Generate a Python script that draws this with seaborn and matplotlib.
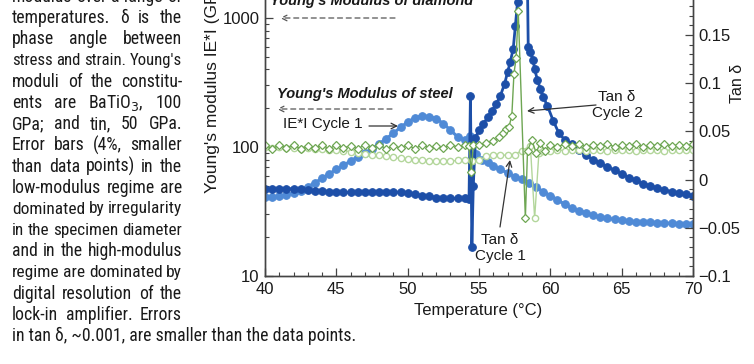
import matplotlib
matplotlib.use("Agg")
import matplotlib.pyplot as plt
import matplotlib.ticker as mticker
import seaborn as sns
from matplotlib import font_manager

W, H = 754, 364

# |E*| cycle 1 (light blue)
temp_e1 = [40.0, 40.5, 41.0, 41.5, 42.0, 42.5, 43.0, 43.5, 44.0, 44.5, 45.0, 45.5, 46.0, 46.5,
           47.0, 47.5, 48.0, 48.5, 49.0, 49.5, 50.0, 50.5, 51.0, 51.5, 52.0, 52.5, 53.0, 53.5,
           54.0, 54.4, 54.8, 55.2, 55.6, 56.0, 56.5, 57.0, 57.5, 58.0, 58.5, 59.0, 59.5, 60.0,
           60.5, 61.0, 61.5, 62.0, 62.5, 63.0, 63.5, 64.0, 64.5, 65.0, 65.5, 66.0, 66.5, 67.0,
           67.5, 68.0, 68.5, 69.0, 69.5, 70.0]
mod_e1 = [41, 41, 41.5, 42.5, 44, 46, 49, 53, 57, 62, 67, 72, 78, 84,
          90, 97, 106, 116, 128, 142, 156, 168, 174, 172, 166, 152, 135, 120,
          113, 122, 88, 80, 76, 71, 67, 63, 59, 56, 53, 49, 45, 42,
          39, 36, 33.5, 32, 31, 29.5, 28.5, 28, 27.5, 27, 26.6, 26.3, 26.1, 26,
          25.9, 25.8, 25.6, 25.5, 25.4, 25.3]

# |E*| cycle 2 (dark blue)
temp_e2 = [40.0, 40.5, 41.0, 41.5, 42.0, 42.5, 43.0, 43.5, 44.0, 44.5, 45.0, 45.5, 46.0, 46.5,
           47.0, 47.5, 48.0, 48.5, 49.0, 49.5, 50.0, 50.5, 51.0, 51.5, 52.0, 52.5, 53.0, 53.5,
           54.0, 54.3, 54.4, 54.5, 54.6, 54.75, 55.0, 55.3, 55.6, 55.9, 56.2, 56.5, 56.8, 57.0,
           57.2, 57.4, 57.55, 57.7, 57.8, 58.35, 58.45, 58.6, 58.8, 58.9, 59.1, 59.3, 59.5, 59.8,
           60.2, 60.6, 61.0, 61.5, 62.0, 62.5, 63.0, 63.5, 64.0, 64.5, 65.0, 65.5, 66.0, 66.5,
           67.0, 67.5, 68.0, 68.5, 69.0, 69.5, 70.0]
mod_e2 = [47, 47.5, 47.5, 47.5, 47.5, 47, 46.5, 46, 45.5, 45, 45, 44.5, 44.5, 45,
          45, 45, 45, 45, 45, 44.5, 44, 43, 42, 41.5, 40.5, 40, 40, 40,
          40, 39.5, 250, 16.8, 50, 118, 135, 150, 170, 190, 215, 250, 310, 380,
          460, 580, 870, 1330, 5000, 5000, 600, 545, 470, 400, 330, 282, 245, 208,
          160, 128, 114, 105, 95, 86, 80, 75, 70, 66, 62, 58, 55, 52,
          50, 48, 46.5, 45, 44, 43, 42]

# tan delta cycle 1 (light green circles)
temp_t1 = [40.0, 40.5, 41.0, 41.5, 42.0, 42.5, 43.0, 43.5, 44.0, 44.5, 45.0, 45.5, 46.0, 46.5,
           47.0, 47.5, 48.0, 48.5, 49.0, 49.5, 50.0, 50.5, 51.0, 51.5, 52.0, 52.5, 53.0, 53.5,
           54.0, 54.5, 55.0, 55.5, 56.0, 56.5, 57.0, 57.5, 58.0, 58.6, 58.9, 59.2, 59.5,
           60.0, 60.5, 61.0, 61.5, 62.0, 62.5, 63.0, 63.5, 64.0, 64.5, 65.0, 65.5, 66.0, 66.5,
           67.0, 67.5, 68.0, 68.5, 69.0, 69.5, 70.0]
tan_t1 = [0.034, 0.033, 0.034, 0.033, 0.033, 0.032, 0.033, 0.032, 0.032, 0.031, 0.031, 0.030, 0.029, 0.028,
          0.027, 0.026, 0.025, 0.024, 0.023, 0.022, 0.021, 0.020, 0.020, 0.019, 0.019, 0.019, 0.019, 0.020,
          0.020, 0.019, 0.020, 0.024, 0.026, 0.026, 0.025, 0.026, 0.030, 0.035, -0.040, 0.028, 0.030,
          0.030, 0.031, 0.030, 0.031, 0.031, 0.030, 0.031, 0.031, 0.030, 0.031, 0.031, 0.031, 0.030, 0.031,
          0.031, 0.031, 0.030, 0.031, 0.031, 0.031, 0.031]

# tan delta cycle 2 (green diamonds)
temp_t2 = [40.0, 40.5, 41.0, 41.5, 42.0, 42.5, 43.0, 43.5, 44.0, 44.5, 45.0, 45.5, 46.0, 46.5,
           47.0, 47.5, 48.0, 48.5, 49.0, 49.5, 50.0, 50.5, 51.0, 51.5, 52.0, 52.5, 53.0, 53.5,
           54.0, 54.3, 54.45, 54.6, 55.0, 55.5, 56.0, 56.4, 56.7, 56.9, 57.1, 57.3, 57.45, 57.6,
           57.75, 58.25, 58.4, 58.7, 59.0, 59.3, 59.6, 60.0, 60.5, 61.0, 61.5, 62.0, 62.5, 63.0,
           63.5, 64.0, 64.5, 65.0, 65.5, 66.0, 66.5, 67.0, 67.5, 68.0, 68.5, 69.0, 69.5, 70.0]
tan_t2 = [0.036, 0.032, 0.036, 0.033, 0.036, 0.032, 0.035, 0.033, 0.036, 0.032, 0.036, 0.033, 0.035, 0.032,
          0.036, 0.033, 0.036, 0.032, 0.035, 0.033, 0.036, 0.032, 0.036, 0.033, 0.035, 0.033, 0.036, 0.034,
          0.036, 0.035, 0.008, 0.036, 0.036, 0.038, 0.040, 0.044, 0.048, 0.052, 0.055, 0.066, 0.110, 0.126,
          0.175, -0.040, 0.030, 0.041, 0.028, 0.038, 0.030, 0.036, 0.034, 0.037, 0.035, 0.037, 0.034, 0.036,
          0.035, 0.037, 0.034, 0.036, 0.035, 0.037, 0.034, 0.036, 0.035, 0.037, 0.035, 0.036, 0.035, 0.037]

caption_lines = [
    "modulus over a range of",
    "temperatures. \u03b4 is the",
    "phase angle between",
    "stress and strain. Young's",
    "moduli of the constitu-",
    "ents are BaTiO$_3$, 100",
    "GPa; and tin, 50 GPa.",
    "Error bars (4%, smaller",
    "than data points) in the",
    "low-modulus regime are",
    "dominated by irregularity",
    "in the specimen diameter",
    "and in the high-modulus",
    "regime are dominated by",
    "digital resolution of the",
    "lock-in amplifier. Errors",
]
caption_last = "in tan \u03b4, ~0.001, are smaller than the data points."

sns.set_style("ticks")
plt.rcParams['font.family'] = ['Liberation Sans', 'DejaVu Sans']
plt.rcParams['axes.unicode_minus'] = True

# a narrow face for the caption, if one is installed
fonts = font_manager.fontManager.ttflist
installed = {f.name for f in fonts}
cap_kw = dict(family=['Liberation Sans', 'DejaVu Sans'], fontsize=10.6)
for name in ['Liberation Sans Narrow', 'Roboto Condensed', 'Open Sans Condensed',
             'Noto Sans Condensed', 'DejaVu Sans Condensed']:
    if name in installed:
        cap_kw = dict(family=[name, 'DejaVu Sans'], fontsize=11.5)
        break
else:
    if any(f.name == 'DejaVu Sans' and f.stretch == 'condensed' and f.style == 'normal'
           and f.weight in (400, 'normal') for f in fonts):
        cap_kw = dict(family=['DejaVu Sans'], fontstretch='condensed', fontsize=10.8)

fig = plt.figure(figsize=(W / 100, H / 100), dpi=100)
ax = fig.add_axes([265 / W, 1 - 276 / H, (693 - 265) / W, 276 / H])
ax2 = ax.twinx()

light_blue = '#4f8ad6'
dark_blue = '#1d4fa8'
green_dark = '#6ea653'
green_light = '#b3d69b'

sns.lineplot(x=temp_e1, y=mod_e1, ax=ax, color=light_blue, marker='o', markersize=5.5,
             markeredgecolor=light_blue, linewidth=2.2, estimator=None, sort=False)
sns.lineplot(x=temp_e2, y=mod_e2, ax=ax, color=dark_blue, marker='o', markersize=5.5,
             markeredgecolor=dark_blue, linewidth=2, estimator=None, sort=False)
sns.lineplot(x=temp_t1, y=tan_t1, ax=ax2, color=green_light, marker='o', markersize=4.5,
             markerfacecolor='white', markeredgecolor=green_light, markeredgewidth=1,
             linewidth=1, estimator=None, sort=False)
sns.lineplot(x=temp_t2, y=tan_t2, ax=ax2, color=green_dark, marker='D', markersize=4.5,
             markerfacecolor='white', markeredgecolor=green_dark, markeredgewidth=0.9,
             linewidth=1, estimator=None, sort=False)

ax.set_yscale('log')
ax.set_xlim(40, 70)
ax.set_ylim(10, 10 ** (3 + 18 / 129))
ax2.set_ylim(-0.1, 0.15 + 35 * 0.25 / 241)

ax.xaxis.set_major_locator(mticker.MultipleLocator(5))
ax.xaxis.set_minor_locator(mticker.MultipleLocator(1))
ax.yaxis.set_major_locator(mticker.FixedLocator([10, 100, 1000]))
ax.yaxis.set_major_formatter(mticker.FuncFormatter(lambda v, p: f"{v:.0f}"))
ax.yaxis.set_minor_locator(mticker.LogLocator(base=10, subs=range(2, 10)))
ax.yaxis.set_minor_formatter(mticker.NullFormatter())
ax2.yaxis.set_major_locator(mticker.FixedLocator([-0.1, -0.05, 0, 0.05, 0.1, 0.15]))
ax2.yaxis.set_major_formatter(mticker.FuncFormatter(
    lambda v, p: f"{round(v, 3):g}".replace('-', '\u2212') if abs(v) > 1e-9 else "0"))
ax2.yaxis.set_minor_locator(mticker.MultipleLocator(0.01))

for a in (ax, ax2):
    a.set_xlabel('')
    a.set_ylabel('')
    a.spines['top'].set_visible(False)
    for s in ('left', 'right', 'bottom'):
        a.spines[s].set_color('#444444')
        a.spines[s].set_linewidth(1)
    a.tick_params(which='major', direction='in', length=6, width=0.9, color='#444444',
                  labelsize=12, labelcolor='#1a1a1a', pad=4)
    a.tick_params(which='minor', direction='in', length=3, width=0.8, color='#444444')
ax.tick_params(axis='y', right=False)
ax2.tick_params(axis='y', left=False)


def px(x, y):
    return x, H - y


def ftext(x, y, s, **kw):
    return fig.text(*px(x, y), s, transform=None, **kw)


# axis titles
ftext(213, 193, "Young's modulus IE*I (GPa)", rotation=90, ha='center', va='bottom',
      fontsize=12.5, color='#1a1a1a')
ftext(478, 311, "Temperature (\u00b0C)", ha='center', va='center', fontsize=12, color='#1a1a1a')
ftext(737, 83, "Tan \u03b4", rotation=90, ha='center', va='center', fontsize=11.5, color='#1a1a1a')

# reference levels
ftext(270, 5, "Young's Modulus of diamond", ha='left', va='baseline', fontsize=10.5,
      fontweight='bold', fontstyle='italic', color='#1a1a1a')
ftext(277, 98, "Young's Modulus of steel", ha='left', va='baseline', fontsize=10.5,
      fontweight='bold', fontstyle='italic', color='#1a1a1a')
dash_arrow = dict(arrowstyle='->', linestyle=(0, (4, 3)), color='#555555', lw=0.9,
                  shrinkA=0, shrinkB=0)
ax.annotate('', xy=px(280, 18), xytext=px(395, 18), xycoords='figure pixels',
            textcoords='figure pixels', arrowprops=dash_arrow)
ax.annotate('', xy=px(277, 109), xytext=px(392, 109), xycoords='figure pixels',
            textcoords='figure pixels', arrowprops=dash_arrow)

# series labels
solid_arrow = dict(arrowstyle='->', color='#333333', lw=0.9, shrinkA=0, shrinkB=0)
ftext(283, 124, "IE*I Cycle 1", ha='left', va='center', fontsize=11, color='#1a1a1a')
ax.annotate('', xy=px(398, 126), xytext=px(369, 126), xycoords='figure pixels',
            textcoords='figure pixels', arrowprops=solid_arrow)
ftext(617, 105, "Tan \u03b4\nCycle 2", ha='center', va='center', fontsize=11,
      color='#1a1a1a', linespacing=1.1)
ax.annotate('', xy=px(527, 111), xytext=px(596, 105), xycoords='figure pixels',
            textcoords='figure pixels', arrowprops=solid_arrow)
ftext(500, 248, "Tan \u03b4\nCycle 1", ha='center', va='center', fontsize=11,
      color='#1a1a1a', linespacing=1.1)
ax.annotate('', xy=px(510, 160), xytext=px(500, 227), xycoords='figure pixels',
            textcoords='figure pixels', arrowprops=solid_arrow)

# caption text: size set so the last line spans x=12..356, other lines justified 12..182
renderer = fig.canvas.get_renderer()
cap_x0, cap_x1 = 12, 182
min_gap = 3.5
cap_kw.update(va='center', ha='left', color='#1a1a1a')
last = ftext(cap_x0, -3 + 21.2 * len(caption_lines), caption_last, **cap_kw)
scale = (354 - cap_x0) / last.get_window_extent(renderer).width
cap_kw['fontsize'] = cap_kw['fontsize'] * scale
last.set_fontsize(cap_kw['fontsize'])
for i, line in enumerate(caption_lines):
    y = -3 + 21.2 * i
    words = line.split(' ')
    objs = [ftext(0, y, w, **cap_kw) for w in words]
    widths = [t.get_window_extent(renderer).width for t in objs]
    room = cap_x1 - cap_x0 - min_gap * (len(words) - 1)
    if sum(widths) > room:
        # squeeze tight lines a little so the words keep a visible space
        for t in objs:
            t.set_fontsize(cap_kw['fontsize'] * room / sum(widths))
        widths = [t.get_window_extent(renderer).width for t in objs]
    gap = (cap_x1 - cap_x0 - sum(widths)) / max(len(words) - 1, 1)
    x = cap_x0
    for t, w in zip(objs, widths):
        t.set_x(x)
        x += w + gap

fig.savefig('out.png', dpi=100)
